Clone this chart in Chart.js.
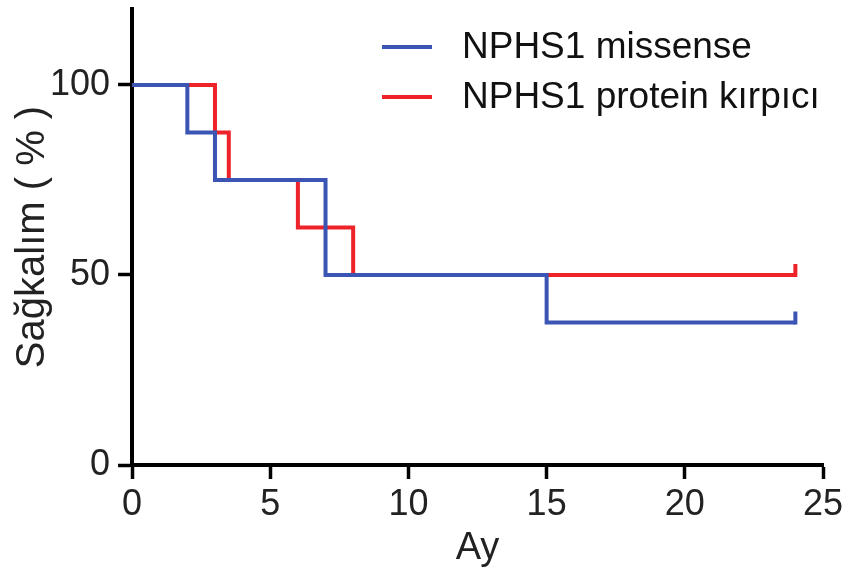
<!DOCTYPE html>
<html>
<head>
<meta charset="utf-8">
<script src="https://cdn.jsdelivr.net/npm/chart.js@4.4.1/dist/chart.umd.min.js"></script>
<style>
  html, body { margin: 0; padding: 0; background: #fff; }
  #wrap { width: 853px; height: 569px; position: relative; }
</style>
</head>
<body>
<div id="wrap"><canvas id="chart"></canvas></div>
<script>
// Kaplan-Meier data (months, survival %)
const missenseTimes = [0, 2, 3, 7, 15, 24];
const missenseSurv = [100, 87.5, 75, 50, 37.5, 37.5];
const truncTimes = [0, 3, 3.5, 6, 8, 24];
const truncSurv = [100, 87.5, 75, 62.5, 50, 50];
// censored at last follow-up
const missenseCensor = [24];
const truncCensor = [24];

const xTicks = [0, 5, 10, 15, 20, 25];
const yTicks = [0, 50, 100];
const seriesLabels = ['NPHS1 missense', 'NPHS1 protein kırpıcı'];
const blue = '#3a55b4';
const red = '#ee2229';
const fontFam = '"Liberation Sans", Arial, sans-serif';

const toPoints = (xs, ys) => xs.map((x, i) => ({ x: x, y: ys[i] }));

// draws the censor ticks and the legend
const kmExtras = {
    id: 'kmExtras',
    afterDatasetsDraw(chart) {
        const ctx = chart.ctx;
        const xs = chart.scales.x, ys = chart.scales.y;
        chart.data.datasets.forEach(ds => {
            ds.censor.forEach(t => {
                // survival at censor time = last step value before t
                let v = ds.data[0].y;
                ds.data.forEach(p => { if (p.x <= t) v = p.y; });
                const px = xs.getPixelForValue(t);
                const py = ys.getPixelForValue(v);
                ctx.save();
                ctx.strokeStyle = ds.borderColor;
                ctx.lineWidth = 4;
                ctx.beginPath();
                ctx.moveTo(px, py + 2);
                ctx.lineTo(px, py - 11);
                ctx.stroke();
                ctx.restore();
            });
        });
    },
    afterDraw(chart) {
        const ctx = chart.ctx;
        ctx.save();
        ctx.font = '37px ' + fontFam;
        ctx.textBaseline = 'middle';
        chart.data.datasets.forEach((ds, i) => {
            const y = 47 + i * 50;
            ctx.strokeStyle = ds.borderColor;
            ctx.lineWidth = 4;
            ctx.beginPath();
            ctx.moveTo(382, y);
            ctx.lineTo(432, y);
            ctx.stroke();
            ctx.fillStyle = '#111';
            ctx.fillText(ds.label, 462, y + 1);
        });
        ctx.restore();
    }
};

new Chart(document.getElementById('chart'), {
    type: 'line',
    data: {
        datasets: [
            {
                label: seriesLabels[0],
                data: toPoints(missenseTimes, missenseSurv),
                censor: missenseCensor,
                borderColor: blue,
                borderWidth: 4,
                stepped: true,
                pointRadius: 0,
                fill: false
            },
            {
                label: seriesLabels[1],
                data: toPoints(truncTimes, truncSurv),
                censor: truncCensor,
                borderColor: red,
                borderWidth: 4,
                stepped: true,
                pointRadius: 0,
                fill: false
            }
        ]
    },
    options: {
        responsive: true,
        maintainAspectRatio: false,
        animation: false,
        layout: { padding: { top: 9, right: 30, left: 4, bottom: 0 } },
        plugins: {
            legend: { display: false },
            tooltip: { enabled: false }
        },
        scales: {
            x: {
                type: 'linear',
                min: 0,
                max: 25,
                afterBuildTicks: axis => { axis.ticks = xTicks.map(v => ({ value: v })); },
                grid: {
                    drawOnChartArea: false,
                    drawTicks: true,
                    tickLength: 14,
                    tickWidth: 3.5,
                    tickColor: '#000'
                },
                border: { display: true, color: '#000', width: 4 },
                ticks: {
                    color: '#222',
                    font: { family: fontFam, size: 36 },
                    padding: 4,
                    maxRotation: 0
                },
                title: {
                    display: true,
                    text: 'Ay',
                    color: '#222',
                    font: { family: fontFam, size: 38, lineHeight: 1.1 },
                    padding: { top: -3, bottom: 0 }
                }
            },
            y: {
                type: 'linear',
                min: 0,
                max: 120,
                afterBuildTicks: axis => { axis.ticks = yTicks.map(v => ({ value: v })); },
                // top tick is not at the edge, so no extra room is needed above it
                afterFit: axis => { axis.paddingTop = 0; axis.paddingBottom = 0; },
                grid: {
                    drawOnChartArea: false,
                    drawTicks: true,
                    tickLength: 14,
                    tickWidth: 3.5,
                    tickColor: '#000'
                },
                border: { display: true, color: '#000', width: 4 },
                ticks: {
                    color: '#222',
                    font: { family: fontFam, size: 36 },
                    padding: 8
                },
                title: {
                    display: true,
                    text: 'Sağkalım ( % )',
                    color: '#222',
                    font: { family: fontFam, size: 40 },
                    padding: { top: 5, bottom: -15 }
                }
            }
        }
    },
    plugins: [kmExtras]
});
</script>
</body>
</html>
